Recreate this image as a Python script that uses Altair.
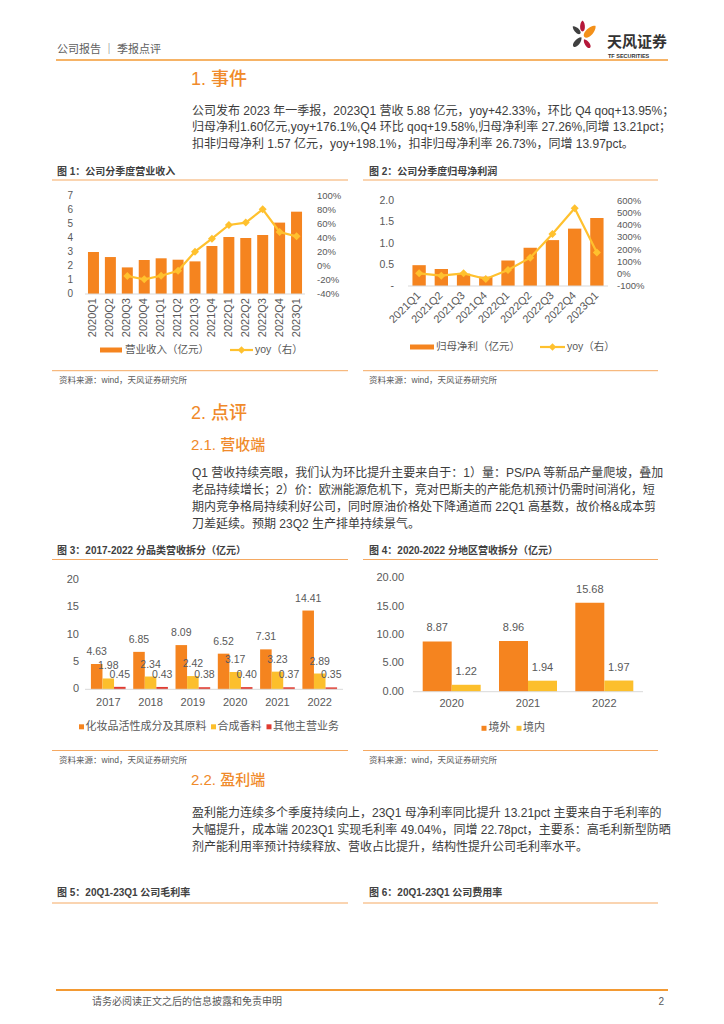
import altair as alt
import pandas as pd

# ----------------- data -----------------
quarters_1 = ["2020Q1", "2020Q2", "2020Q3", "2020Q4", "2021Q1", "2021Q2", "2021Q3",
              "2021Q4", "2022Q1", "2022Q2", "2022Q3", "2022Q4", "2023Q1"]
revenue_1 = [3.00, 2.64, 1.90, 2.43, 2.55, 2.45, 2.33, 3.43, 4.07, 4.00, 4.21, 5.10, 5.88]
rev_yoy_1 = [None, None, -14.3, -19.0, -14.0, -6.7, 20.5, 39.0, 58.6, 62.0, 81.0, 48.6, 42.33]
ticks_1_left = [0, 1, 2, 3, 4, 5, 6, 7]
ticks_1_right = [-40, -20, 0, 20, 40, 60, 80, 100]

quarters_2 = ["2021Q1", "2021Q2", "2021Q3", "2021Q4", "2022Q1", "2022Q2", "2022Q3", "2022Q4", "2023Q1"]
profit_2 = [0.49, 0.40, 0.29, 0.22, 0.60, 0.90, 1.08, 1.35, 1.60]
profit_yoy_2 = [4, -15, 4, -42, 32, 133, 328, 540, 176.1]
ticks_2_left = [0, 0.5, 1.0, 1.5, 2.0]
tick_labels_2_left = ["-", "0.5", "1.0", "1.5", "2.0"]
ticks_2_right = [-100, 0, 100, 200, 300, 400, 500, 600]

years_3 = ["2017", "2018", "2019", "2020", "2021", "2022"]
cats_3 = ["化妆品活性成分及其原料", "合成香料", "其他主营业务"]
cosmetic_3 = [4.63, 6.85, 8.09, 6.52, 7.31, 14.41]
fragrance_3 = [1.98, 2.34, 2.42, 3.17, 3.23, 2.89]
other_3 = [0.45, 0.43, 0.38, 0.40, 0.37, 0.35]
ticks_3 = [0, 5, 10, 15, 20]

years_4 = ["2020", "2021", "2022"]
cats_4 = ["境外", "境内"]
overseas_4 = [8.87, 8.96, 15.68]
domestic_4 = [1.22, 1.94, 1.97]
ticks_4 = [0, 5, 10, 15, 20]

para_1 = [
    "公司发布 2023 年一季报，2023Q1 营收 5.88 亿元，yoy+42.33%，环比 Q4  qoq+13.95%；",
    "归母净利1.60亿元,yoy+176.1%,Q4 环比  qoq+19.58%,归母净利率 27.26%,同增 13.21pct；",
    "扣非归母净利 1.57 亿元，yoy+198.1%，扣非归母净利率 26.73%，同增 13.97pct。",
]
para_21 = [
    "Q1 营收持续亮眼，我们认为环比提升主要来自于：1）量：PS/PA 等新品产量爬坡，叠加",
    "老品持续增长；2）价：欧洲能源危机下，竞对巴斯夫的产能危机预计仍需时间消化，短",
    "期内竞争格局持续利好公司，同时原油价格处下降通道而 22Q1 高基数，故价格&成本剪",
    "刀差延续。预期 23Q2 生产排单持续景气。",
]
para_22 = [
    "盈利能力连续多个季度持续向上，23Q1 母净利率同比提升 13.21pct 主要来自于毛利率的",
    "大幅提升，成本端 2023Q1 实现毛利率 49.04%，同增 22.78pct，主要系：高毛利新型防晒",
    "剂产能利用率预计持续释放、营收占比提升，结构性提升公司毛利率水平。",
]

# ----------------- styles -----------------
ORANGE = "#F5841F"
YELLOW = "#FFC12E"
YELLOW_BAR = "#FCBF2C"
RED = "#E03C31"
HEAD_ORANGE = "#F08A2A"
LINE_ORANGE = "#F5A962"
GRAY = "#595959"
BODY = "#3C3C3C"
AXIS = "#D9D9D9"
MIX = "Liberation Sans, Noto Sans CJK SC"
CJK = "Noto Sans CJK SC"

DUMMY = pd.DataFrame({"d": [0]})


def P(v):
    return v - 8


def txt(s, x, y, size=12, color=BODY, weight="normal", align="left", font=MIX):
    return alt.Chart(DUMMY).mark_text(
        text=s, align=align, baseline="middle", fontSize=size, color=color,
        fontWeight=weight, font=font
    ).encode(x=alt.value(P(x)), y=alt.value(P(y)))


def hline(x1, x2, y, color, w=1.0):
    return alt.Chart(DUMMY).mark_rule(color=color, strokeWidth=w).encode(
        x=alt.value(P(x1)), x2=alt.value(P(x2)), y=alt.value(P(y)))


def box(x1, x2, y1, y2, color):
    return alt.Chart(DUMMY).mark_rect(color=color).encode(
        x=alt.value(P(x1)), x2=alt.value(P(x2)), y=alt.value(P(y1)), y2=alt.value(P(y2)))


def diamond(x, y, color, size=60):
    return alt.Chart(DUMMY).mark_point(shape="diamond", filled=True, size=size, color=color, opacity=1).encode(
        x=alt.value(P(x)), y=alt.value(P(y)))


PETAL = "M0,-1C0.62,-0.5,0.55,1,0,1C-0.55,1,-0.62,-0.5,0,-1Z"


def petal(x, y, size, angle, color):
    return alt.Chart(DUMMY).mark_point(shape=PETAL, filled=True, size=size, angle=angle,
                                       color=color, opacity=1, strokeWidth=0).encode(
        x=alt.value(P(x)), y=alt.value(P(y)))


def band(domain, a, b, pi, po):
    return alt.Scale(type="band", domain=domain, range=[P(a), P(b)], paddingInner=pi, paddingOuter=po)


def point(domain, a, b, pi, po):
    return alt.Scale(type="point", domain=domain, range=[P(a), P(b)], padding=po + (1 - pi) / 2)


def lin(lo, hi, ybot, ytop):
    return alt.Scale(domain=[lo, hi], range=[P(ybot), P(ytop)], nice=False, zero=False)


layers = []

# ----------------- header -----------------
layers += [
    txt("公司报告 ｜ 季报点评", 57, 50, size=11, color="#606060", font=CJK),
    hline(56, 668, 60, "#F39A33", 1.6),
    petal(576.5, 30, 110, 315, "#404040"),
    petal(582.5, 26, 120, 0, "#B5183A"),
    petal(590, 31.5, 250, 45, "#F39019"),
    petal(577.5, 42, 150, 40, "#404040"),
    petal(587, 43.5, 110, 325, "#B5183A"),
    txt("天风证券", 607, 42, size=15, color="#333333", weight="bold", font=CJK),
    txt("TF SECURITIES", 608, 55.5, size=5.5, color="#333333", weight="bold", font="Liberation Sans"),
]

# ----------------- section 1 text -----------------
layers.append(txt("1. 事件", 191, 80, size=18, color=HEAD_ORANGE, weight=500))
for i, line in enumerate(para_1):
    layers.append(txt(line, 192, [110.5, 127.2, 144][i], size=12))

# ----------------- figure titles row 1 -----------------
layers += [
    txt("图 1：公司分季度营业收入", 57, 171.5, size=10, color="#404040", weight="bold", font=MIX),
    txt("图 2：公司分季度归母净利润", 369, 171.5, size=10, color="#404040", weight="bold", font=MIX),
    hline(52, 348, 180, LINE_ORANGE),
    hline(363, 658, 180, LINE_ORANGE),
    hline(52, 348, 370.7, LINE_ORANGE),
    hline(363, 658, 370.7, LINE_ORANGE),
    txt("资料来源：wind，天风证券研究所", 59, 380, size=8.5, color=GRAY, font=MIX),
    txt("资料来源：wind，天风证券研究所", 369, 380, size=8.5, color=GRAY, font=MIX),
]

# ----------------- chart 1 -----------------
df1 = pd.DataFrame({"q": quarters_1, "rev": revenue_1, "yoy": rev_yoy_1})
xb1 = band(quarters_1, 85, 305, 0.35, 0.175)
xp1 = point(quarters_1, 85, 305, 0.35, 0.175)
yl1 = lin(0, 7, 294, 196)
yr1 = lin(-40, 100, 294, 196)
layers += [
    alt.Chart(df1).mark_bar(color=ORANGE).encode(
        x=alt.X("q:N", scale=xb1, axis=None), y=alt.Y("rev:Q", scale=yl1, axis=None)),
    alt.Chart(pd.DataFrame({"v": [0]})).mark_rule(color=AXIS).encode(
        y=alt.Y("v:Q", scale=yl1, axis=None), x=alt.value(P(85)), x2=alt.value(P(305))),
    alt.Chart(df1).transform_filter("isValid(datum.yoy)").mark_line(color=YELLOW, strokeWidth=2.2).encode(
        x=alt.X("q:N", scale=xp1, axis=None), y=alt.Y("yoy:Q", scale=yr1, axis=None)),
    alt.Chart(df1).transform_filter("isValid(datum.yoy)").mark_point(
        shape="diamond", filled=True, size=64, color=YELLOW, opacity=1).encode(
        x=alt.X("q:N", scale=xp1, axis=None), y=alt.Y("yoy:Q", scale=yr1, axis=None)),
    alt.Chart(pd.DataFrame({"v": ticks_1_left, "lab": [str(v) for v in ticks_1_left]})).mark_text(
        align="right", baseline="middle", fontSize=10, color=GRAY, font=MIX).encode(
        y=alt.Y("v:Q", scale=yl1, axis=None), x=alt.value(P(73)), text="lab:N"),
    alt.Chart(pd.DataFrame({"v": ticks_1_right, "lab": [f"{v}%" for v in ticks_1_right]})).mark_text(
        align="left", baseline="middle", fontSize=9.5, color=GRAY, font=MIX).encode(
        y=alt.Y("v:Q", scale=yr1, axis=None), x=alt.value(P(317)), text="lab:N"),
    alt.Chart(df1).mark_text(angle=270, align="right", baseline="middle", fontSize=11,
                             color=GRAY, font=MIX).encode(
        x=alt.X("q:N", scale=xp1, axis=None), y=alt.value(P(298)), text="q:N"),
    box(100, 122, 347.5, 352.5, ORANGE),
    txt("营业收入（亿元）", 125, 350, size=10.5, color=GRAY),
    hline(230, 253, 350, YELLOW, 2.2),
    diamond(241.5, 350, YELLOW, 55),
    txt("yoy（右）", 255, 350, size=10.5, color=GRAY),
]

# ----------------- chart 2 -----------------
df2 = pd.DataFrame({"q": quarters_2, "np": profit_2, "yoy": profit_yoy_2})
xb2 = band(quarters_2, 408, 608, 0.4, 0.2)
xp2 = point(quarters_2, 408, 608, 0.4, 0.2)
yl2 = lin(0, 2, 286, 201)
yr2 = lin(-100, 600, 286, 201)
layers += [
    alt.Chart(df2).mark_bar(color=ORANGE).encode(
        x=alt.X("q:N", scale=xb2, axis=None), y=alt.Y("np:Q", scale=yl2, axis=None)),
    alt.Chart(pd.DataFrame({"v": [0]})).mark_rule(color=AXIS).encode(
        y=alt.Y("v:Q", scale=yl2, axis=None), x=alt.value(P(408)), x2=alt.value(P(608))),
    alt.Chart(df2).mark_line(color=YELLOW, strokeWidth=2.2).encode(
        x=alt.X("q:N", scale=xp2, axis=None), y=alt.Y("yoy:Q", scale=yr2, axis=None)),
    alt.Chart(df2).mark_point(shape="diamond", filled=True, size=64, color=YELLOW, opacity=1).encode(
        x=alt.X("q:N", scale=xp2, axis=None), y=alt.Y("yoy:Q", scale=yr2, axis=None)),
    alt.Chart(pd.DataFrame({"v": ticks_2_left, "lab": tick_labels_2_left})).mark_text(
        align="right", baseline="middle", fontSize=10.5, color=GRAY, font=MIX).encode(
        y=alt.Y("v:Q", scale=yl2, axis=None), x=alt.value(P(394)), text="lab:N"),
    alt.Chart(pd.DataFrame({"v": ticks_2_right, "lab": [f"{v}%" for v in ticks_2_right]})).mark_text(
        align="left", baseline="middle", fontSize=9.5, color=GRAY, font=MIX).encode(
        y=alt.Y("v:Q", scale=yr2, axis=None), x=alt.value(P(617)), text="lab:N"),
    alt.Chart(df2).mark_text(angle=315, align="right", baseline="middle", fontSize=11,
                             color=GRAY, font=MIX).encode(
        x=alt.X("q:N", scale=xp2, axis=None), y=alt.value(P(294)), text="q:N"),
    box(410, 434, 344.5, 349.5, ORANGE),
    txt("归母净利（亿元）", 436, 347, size=10.5, color=GRAY),
    hline(540, 565, 347, YELLOW, 2.2),
    diamond(552.5, 347, YELLOW, 55),
    txt("yoy（右）", 567, 347, size=10.5, color=GRAY),
]

# ----------------- section 2 text -----------------
layers.append(txt("2. 点评", 191, 414, size=18, color=HEAD_ORANGE, weight=500))
layers.append(txt("2.1. 营收端", 191, 445, size=15, color=HEAD_ORANGE, weight=500))
for i, line in enumerate(para_21):
    layers.append(txt(line, 192, [473, 490, 507, 523.5][i], size=12))

# ----------------- figure titles row 2 -----------------
layers += [
    txt("图 3：2017-2022 分品类营收拆分（亿元）", 57, 551, size=10, color="#404040", weight="bold"),
    txt("图 4：2020-2022 分地区营收拆分（亿元）", 369, 551, size=10, color="#404040", weight="bold"),
    hline(52, 348, 559.5, LINE_ORANGE),
    hline(363, 658, 559.5, LINE_ORANGE),
    hline(52, 348, 750.5, LINE_ORANGE),
    hline(363, 658, 750.5, LINE_ORANGE),
    txt("资料来源：wind，天风证券研究所", 59, 760, size=8.5, color=GRAY),
    txt("资料来源：wind，天风证券研究所", 369, 760, size=8.5, color=GRAY),
]

# ----------------- chart 3 -----------------
df3 = pd.DataFrame({
    "year": years_3 * 3,
    "cat": [cats_3[0]] * 6 + [cats_3[1]] * 6 + [cats_3[2]] * 6,
    "val": cosmetic_3 + fragrance_3 + other_3,
})
xb3 = band(years_3, 85, 343, 0.18, 0.14)
xp3 = point(years_3, 85, 343, 0.18, 0.14)
xo3 = alt.Scale(type="band", domain=cats_3, paddingInner=0, paddingOuter=0)
y3 = lin(0, 20, 689.3, 580)
col3 = alt.Scale(domain=cats_3, range=[ORANGE, YELLOW_BAR, RED])
layers += [
    alt.Chart(df3).mark_bar().encode(
        x=alt.X("year:N", scale=xb3, axis=None),
        xOffset=alt.XOffset("cat:N", scale=xo3),
        y=alt.Y("val:Q", scale=y3, axis=None),
        color=alt.Color("cat:N", scale=col3, legend=None)),
    alt.Chart(pd.DataFrame({"v": [0]})).mark_rule(color=AXIS).encode(
        y=alt.Y("v:Q", scale=y3, axis=None), x=alt.value(P(85)), x2=alt.value(P(343))),
    alt.Chart(df3).mark_text(baseline="middle", align="center", dy=-12, fontSize=10.5,
                             color=GRAY, font=MIX).encode(
        x=alt.X("year:N", scale=xb3, axis=None),
        xOffset=alt.XOffset("cat:N", scale=xo3),
        y=alt.Y("val:Q", scale=y3, axis=None),
        text=alt.Text("val:Q", format=".2f")),
    alt.Chart(pd.DataFrame({"v": ticks_3, "lab": [str(v) for v in ticks_3]})).mark_text(
        align="right", baseline="middle", fontSize=11, color=GRAY, font=MIX).encode(
        y=alt.Y("v:Q", scale=y3, axis=None), x=alt.value(P(79)), text="lab:N"),
    alt.Chart(pd.DataFrame({"y": years_3})).mark_text(
        align="center", baseline="middle", fontSize=11, color=GRAY, font=MIX).encode(
        x=alt.X("y:N", scale=xp3, axis=None), y=alt.value(P(702.7)), text="y:N"),
    box(79, 84, 724.3, 729.3, ORANGE),
    txt(cats_3[0], 85.5, 726.8, size=11, color=GRAY),
    box(211, 216, 724.3, 729.3, YELLOW_BAR),
    txt(cats_3[1], 217.5, 726.8, size=11, color=GRAY),
    box(266.5, 271.5, 724.3, 729.3, RED),
    txt(cats_3[2], 273, 726.8, size=11, color=GRAY),
]

# ----------------- chart 4 -----------------
df4 = pd.DataFrame({
    "year": years_4 * 2,
    "cat": [cats_4[0]] * 3 + [cats_4[1]] * 3,
    "val": overseas_4 + domestic_4,
})
xb4 = band(years_4, 413, 643, 0.24, 0.127)
xp4 = point(years_4, 413, 643, 0.24, 0.127)
xo4 = alt.Scale(type="band", domain=cats_4, paddingInner=0, paddingOuter=0)
y4 = lin(0, 20, 691.7, 578.3)
col4 = alt.Scale(domain=cats_4, range=[ORANGE, YELLOW_BAR])
layers += [
    alt.Chart(df4).mark_bar().encode(
        x=alt.X("year:N", scale=xb4, axis=None),
        xOffset=alt.XOffset("cat:N", scale=xo4),
        y=alt.Y("val:Q", scale=y4, axis=None),
        color=alt.Color("cat:N", scale=col4, legend=None)),
    alt.Chart(pd.DataFrame({"v": [0]})).mark_rule(color=AXIS).encode(
        y=alt.Y("v:Q", scale=y4, axis=None), x=alt.value(P(413)), x2=alt.value(P(643))),
    alt.Chart(df4).mark_text(baseline="middle", align="center", dy=-13, fontSize=11,
                             color=GRAY, font=MIX).encode(
        x=alt.X("year:N", scale=xb4, axis=None),
        xOffset=alt.XOffset("cat:N", scale=xo4),
        y=alt.Y("val:Q", scale=y4, axis=None),
        text=alt.Text("val:Q", format=".2f")),
    alt.Chart(pd.DataFrame({"v": ticks_4, "lab": [f"{v:.2f}" for v in ticks_4]})).mark_text(
        align="right", baseline="middle", fontSize=11, color=GRAY, font=MIX).encode(
        y=alt.Y("v:Q", scale=y4, axis=None), x=alt.value(P(404)), text="lab:N"),
    alt.Chart(pd.DataFrame({"y": years_4})).mark_text(
        align="center", baseline="middle", fontSize=11, color=GRAY, font=MIX).encode(
        x=alt.X("y:N", scale=xp4, axis=None), y=alt.value(P(704)), text="y:N"),
    box(481.5, 486.5, 725.8, 730.8, ORANGE),
    txt(cats_4[0], 488.5, 728.3, size=11, color=GRAY),
    box(516.5, 521.5, 725.8, 730.8, YELLOW_BAR),
    txt(cats_4[1], 523, 728.3, size=11, color=GRAY),
]

# ----------------- section 2.2 -----------------
layers.append(txt("2.2. 盈利端", 191, 780, size=15, color=HEAD_ORANGE, weight=500))
for i, line in enumerate(para_22):
    layers.append(txt(line, 192, [812.5, 829.5, 846.5][i], size=12))

layers += [
    txt("图 5：20Q1-23Q1 公司毛利率", 57, 893, size=10, color="#404040", weight="bold"),
    txt("图 6：20Q1-23Q1 公司费用率", 369, 893, size=10, color="#404040", weight="bold"),
    hline(52, 348, 903, LINE_ORANGE),
    hline(363, 658, 903, LINE_ORANGE),
]

# ----------------- footer -----------------
layers += [
    hline(56, 668, 990, "#F39A33", 1.8),
    txt("请务必阅读正文之后的信息披露和免责申明", 92, 1002, size=10, color=GRAY, font=CJK),
    txt("2", 664, 1002, size=10, color=GRAY, align="right"),
]

chart = alt.layer(*layers).resolve_scale(
    x="independent", y="independent", xOffset="independent", color="independent"
).properties(
    width=708, height=1000, padding=0, autosize="none", background="white"
).configure_view(stroke=None)

chart.save("out.html", embed_options={"renderer": "svg", "actions": False})
